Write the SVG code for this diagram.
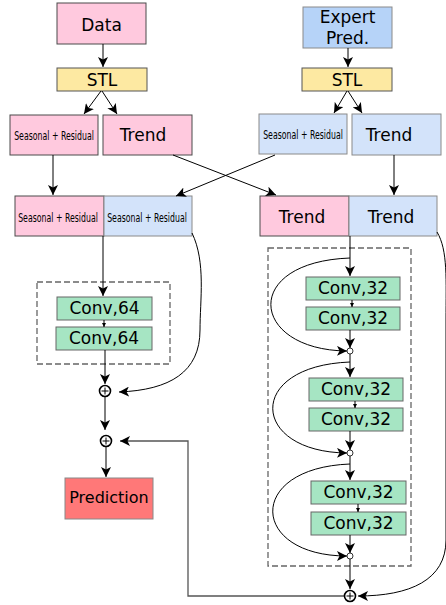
<svg xmlns="http://www.w3.org/2000/svg" width="446" height="605" viewBox="0 0 446 605">
<defs>
  <marker id="ah" viewBox="0 0 10 10" refX="10" refY="5" markerWidth="10" markerHeight="10" markerUnits="userSpaceOnUse" orient="auto">
    <path d="M0,0 L10,5 L0,10 L2.5,5 Z" fill="#000"/>
  </marker>
  <marker id="ahs" viewBox="0 0 10 10" refX="10" refY="5" markerWidth="4" markerHeight="4" markerUnits="userSpaceOnUse" orient="auto">
    <path d="M0,0 L10,5 L0,10 Z" fill="#000"/>
  </marker>
  <style>
    text { font-family: "DejaVu Sans", Verdana, sans-serif; fill: #000; text-anchor: middle; }
    .big { font-size: 17px; }
    .mid { font-size: 16px; }
    .cond { font-size: 13px; }
    .pink { fill: #ffc9de; stroke: #4a4a4a; stroke-width: 1; }
    .blue { fill: #b6d3f8; stroke: #8a8a8a; stroke-width: 1; }
    .lblue { fill: #d3e3fa; stroke: #8a8a8a; stroke-width: 1; }
    .yel { fill: #fde9a2; stroke: #555; stroke-width: 1; }
    .green { fill: #a6e5c3; stroke: #666; stroke-width: 1; }
    .red { fill: #ff7878; stroke: #888; stroke-width: 1; }
    .dash { fill: none; stroke: #666; stroke-width: 1.3; stroke-dasharray: 6 3; }
    .ln { fill: none; stroke: #000; stroke-width: 1; }
    .gl { fill: none; stroke: #555; stroke-width: 1.3; }
    .op { fill: #fff; stroke: #000; stroke-width: 1.6; }
    .ops { fill: #fff; stroke: #000; stroke-width: 0.8; }
  </style>
</defs>

<!-- grouping frames for the conv stacks -->
<rect class="dash" x="37" y="282" width="133" height="82"/>
<rect class="dash" x="268" y="248" width="143" height="318"/>

<!-- input branch: data -->
<g id="data"><rect class="pink" x="57" y="3" width="89" height="41"/><text class="big" x="101.5" y="31">Data</text></g>
<g id="stl-data"><rect class="yel" x="57" y="68" width="90" height="23"/><text class="big" x="102" y="86">STL</text></g>
<g id="sr-data"><rect class="pink" x="10" y="115" width="88" height="40"/><text class="cond" transform="translate(54 140) scale(0.6 1)">Seasonal + Residual</text></g>
<g id="trend-data"><rect class="pink" x="103" y="115" width="89" height="40"/><text class="big" x="143" y="141">Trend</text></g>

<!-- input branch: expert prediction -->
<g id="expert"><rect class="blue" x="303" y="7" width="89" height="41"/><text class="big" x="347.5" y="23">Expert</text><text class="big" x="347.5" y="44">Pred.</text></g>
<g id="stl-expert"><rect class="yel" x="302" y="68" width="90" height="23"/><text class="big" x="347" y="86">STL</text></g>
<g id="sr-expert"><rect class="lblue" x="259" y="114" width="88" height="40"/><text class="cond" transform="translate(303 139) scale(0.6 1)">Seasonal + Residual</text></g>
<g id="trend-expert"><rect class="lblue" x="352" y="114" width="89" height="41"/><text class="big" x="389" y="141">Trend</text></g>

<!-- concatenated pairs -->
<g id="sr-pair">
  <rect class="pink" x="15" y="196" width="89" height="40"/><text class="cond" transform="translate(58 222) scale(0.6 1)">Seasonal + Residual</text>
  <rect class="lblue" x="104" y="196" width="88" height="40"/><text class="cond" transform="translate(147 222) scale(0.6 1)">Seasonal + Residual</text>
</g>
<g id="trend-pair">
  <rect class="pink" x="260" y="196" width="89" height="40"/><text class="big" x="302" y="223">Trend</text>
  <rect class="lblue" x="349" y="196" width="88" height="40"/><text class="big" x="391" y="223">Trend</text>
</g>

<!-- seasonal conv stack -->
<g id="conv64-1"><rect class="green" x="57" y="297" width="95" height="23"/><text class="big" x="104.5" y="314">Conv,64</text></g>
<g id="conv64-2"><rect class="green" x="56" y="327" width="96" height="23"/><text class="big" x="104" y="344">Conv,64</text></g>

<!-- trend conv stack -->
<g id="conv32-1"><rect class="green" x="306" y="277" width="94" height="23"/><text class="big" x="353" y="294">Conv,32</text></g>
<g id="conv32-2"><rect class="green" x="306" y="307" width="94" height="23"/><text class="big" x="353" y="324">Conv,32</text></g>
<g id="conv32-3"><rect class="green" x="309" y="378" width="94" height="23"/><text class="big" x="356" y="395">Conv,32</text></g>
<g id="conv32-4"><rect class="green" x="309" y="408" width="94" height="23"/><text class="big" x="356" y="425">Conv,32</text></g>
<g id="conv32-5"><rect class="green" x="311" y="481" width="95" height="23"/><text class="big" x="358.5" y="498">Conv,32</text></g>
<g id="conv32-6"><rect class="green" x="311" y="512" width="95" height="23"/><text class="big" x="358.5" y="529">Conv,32</text></g>

<!-- output -->
<g id="prediction"><rect class="red" x="65" y="478" width="88" height="41"/><text class="mid" x="109" y="503">Prediction</text></g>

<!-- connectors -->
<g id="connectors">
  <line class="ln" x1="103" y1="44" x2="103" y2="67" marker-end="url(#ah)"/>
  <line class="ln" x1="101" y1="91" x2="84" y2="114" marker-end="url(#ah)"/>
  <line class="ln" x1="102" y1="91" x2="117" y2="114" marker-end="url(#ah)"/>
  <line class="ln" x1="348" y1="48" x2="348" y2="67" marker-end="url(#ah)"/>
  <line class="ln" x1="347" y1="91" x2="334" y2="113" marker-end="url(#ah)"/>
  <line class="ln" x1="348" y1="91" x2="362" y2="113" marker-end="url(#ah)"/>

  <line class="ln" x1="53" y1="155" x2="53" y2="195" marker-end="url(#ah)"/>
  <line class="ln" x1="173" y1="155" x2="276" y2="195" marker-end="url(#ah)"/>
  <line class="ln" x1="275" y1="155" x2="176" y2="196" marker-end="url(#ah)"/>
  <line class="ln" x1="394" y1="155" x2="394" y2="195" marker-end="url(#ah)"/>

  <!-- seasonal path -->
  <line class="ln" x1="103" y1="236" x2="103" y2="296" marker-end="url(#ah)"/>
  <line class="ln" x1="104" y1="320" x2="104" y2="327" marker-end="url(#ahs)"/>
  <line class="ln" x1="105" y1="350" x2="105" y2="384" marker-end="url(#ah)"/>
  <path class="ln" d="M192,233 C206,262 200,300 200,330 C200,372 170,390 119,392" marker-end="url(#ah)"/>
  <g><circle class="op" cx="105" cy="391" r="5.5"/><path class="ln" d="M101.5,391 H108.5 M105,387.5 V394.5" stroke-width="1.6"/></g>
  <line class="ln" x1="105" y1="397" x2="105" y2="430" marker-end="url(#ah)"/>
  <g><circle class="op" cx="106" cy="441" r="5.5"/><path class="ln" d="M102.5,441 H109.5 M106,437.5 V444.5" stroke-width="1.6"/></g>
  <line class="ln" x1="106" y1="447" x2="106" y2="477" marker-end="url(#ah)"/>
  <path class="gl" d="M344,596 H188 V441 H120" marker-end="url(#ah)"/>

  <!-- trend path -->
  <line class="ln" x1="350" y1="236" x2="350" y2="276" marker-end="url(#ah)"/>
  <line class="ln" x1="352" y1="300" x2="352" y2="307" marker-end="url(#ahs)"/>
  <line class="ln" x1="350" y1="330" x2="350" y2="348" marker-end="url(#ah)"/>
  <path class="ln" d="M350,258 C240,262 250,350 347,351" marker-end="url(#ah)"/>
  <circle class="ops" cx="350" cy="351" r="3"/>
  <line class="ln" x1="350" y1="354" x2="350" y2="377" marker-end="url(#ah)"/>
  <line class="ln" x1="355" y1="401" x2="355" y2="408" marker-end="url(#ahs)"/>
  <line class="ln" x1="350" y1="431" x2="350" y2="450" marker-end="url(#ah)"/>
  <path class="ln" d="M350,362 C245,366 250,452 347,453" marker-end="url(#ah)"/>
  <circle class="ops" cx="350" cy="453" r="3"/>
  <line class="ln" x1="350" y1="456" x2="350" y2="480" marker-end="url(#ah)"/>
  <line class="ln" x1="358" y1="504" x2="358" y2="512" marker-end="url(#ahs)"/>
  <line class="ln" x1="350" y1="535" x2="350" y2="553" marker-end="url(#ah)"/>
  <path class="ln" d="M350,464 C245,468 250,556 347,556" marker-end="url(#ah)"/>
  <circle class="ops" cx="350" cy="556" r="3"/>
  <line class="ln" x1="350" y1="559" x2="350" y2="589" marker-end="url(#ah)"/>
  <path class="ln" d="M437,232 C448,250 446,280 446,320 L446,540 C446,580 410,596 358,596" marker-end="url(#ah)"/>
  <g><circle class="op" cx="350" cy="596" r="5.5"/><path class="ln" d="M346.5,596 H353.5 M350,592.5 V599.5" stroke-width="1.6"/></g>
</g>
</svg>
